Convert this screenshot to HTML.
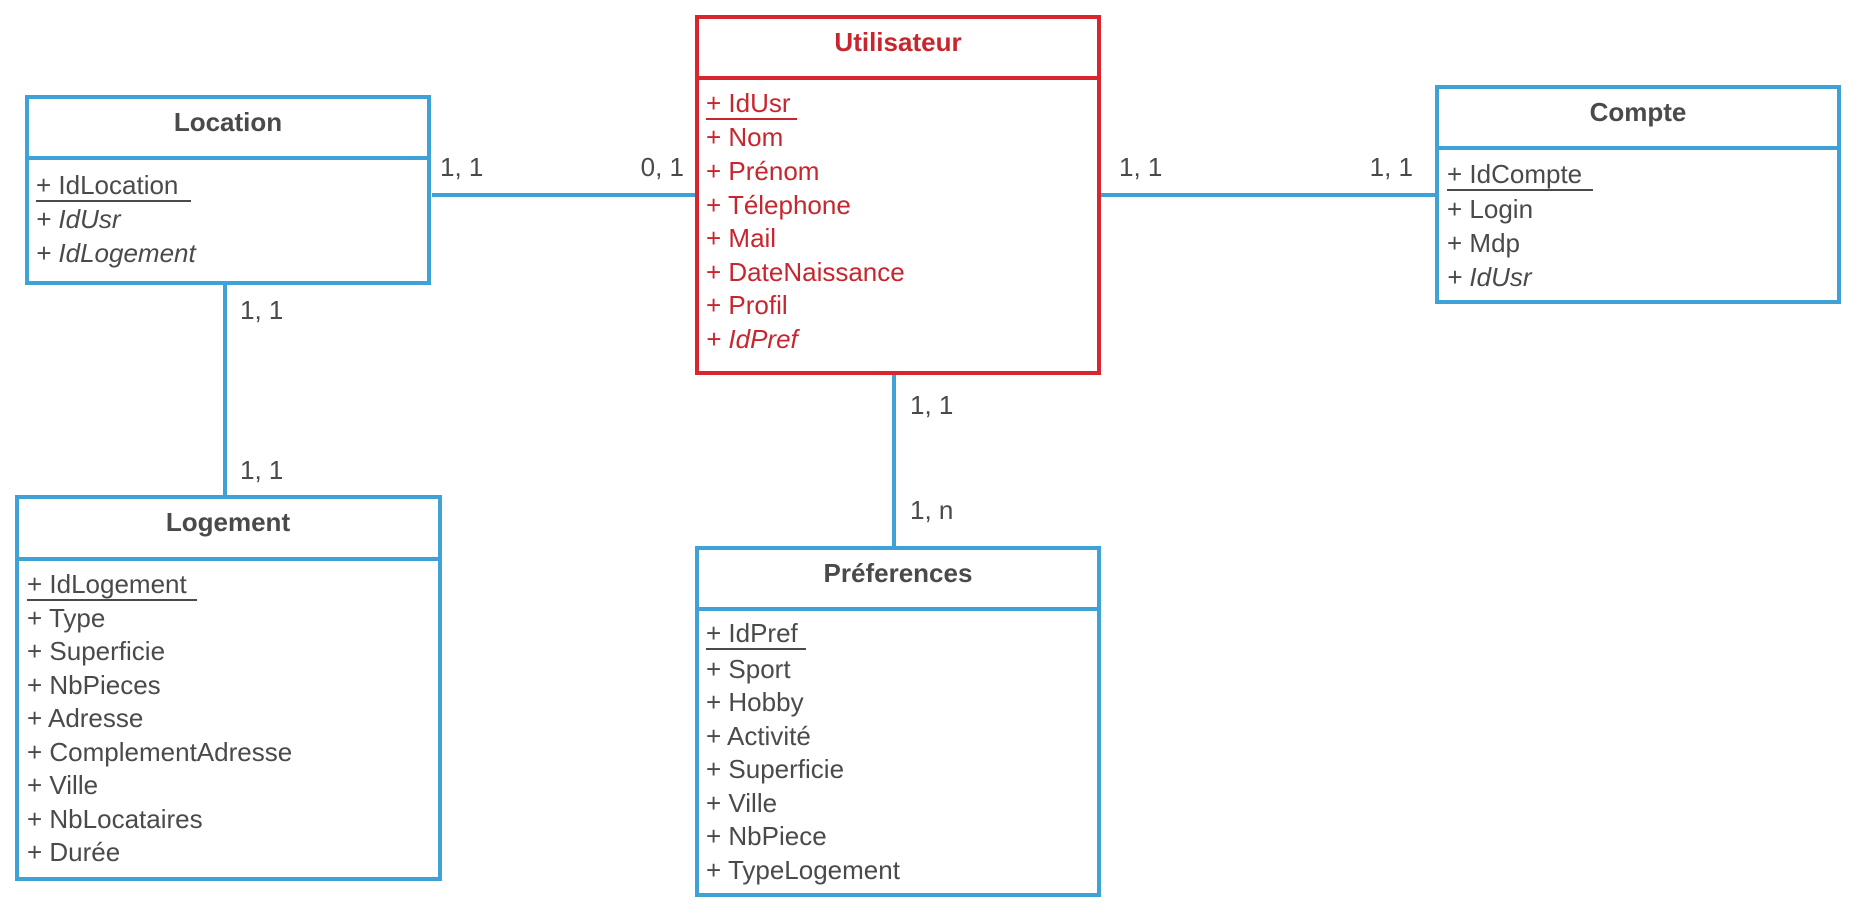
<!DOCTYPE html>
<html><head><meta charset="utf-8"><style>
html,body{margin:0;padding:0;background:#fff;}
svg{display:block;}
text{font-family:"Liberation Sans",sans-serif;font-size:26px;fill:#4a4a4a;}
.h{font-weight:bold;text-anchor:middle;}
.r{fill:#c8262e;}
.i{font-style:italic;}
</style></head><body>
<svg width="1860" height="910" viewBox="0 0 1860 910" xmlns="http://www.w3.org/2000/svg">
<g fill="none" stroke="#3fa2d7" stroke-width="4">
<line x1="432" y1="195" x2="697" y2="195"/>
<line x1="1101" y1="195" x2="1437" y2="195"/>
<line x1="225" y1="283" x2="225" y2="497"/>
<line x1="894" y1="373" x2="894" y2="548"/>
<rect x="27" y="97" width="402" height="186"/><line x1="27" y1="158" x2="429" y2="158"/>
<rect x="1437" y="87" width="402" height="215"/><line x1="1437" y1="148" x2="1839" y2="148"/>
<rect x="17" y="497" width="423" height="382"/><line x1="17" y1="559" x2="440" y2="559"/>
<rect x="697" y="548" width="402" height="347"/><line x1="697" y1="609" x2="1099" y2="609"/>
</g>
<g fill="none" stroke="#d9252d" stroke-width="4">
<rect x="697" y="17" width="402" height="356"/><line x1="697" y1="78" x2="1099" y2="78"/>
</g>
<!-- labels -->
<text x="440" y="176">1, 1</text>
<text x="684" y="176" text-anchor="end">0, 1</text>
<text x="1119" y="176">1, 1</text>
<text x="1413" y="176" text-anchor="end">1, 1</text>
<text x="240" y="319">1, 1</text>
<text x="240" y="479">1, 1</text>
<text x="910" y="414">1, 1</text>
<text x="910" y="519">1, n</text>
<!-- Location -->
<text class="h" x="228" y="131">Location</text>
<text x="36" y="194">+ IdLocation</text>
<line x1="36" y1="201" x2="191" y2="201" stroke="#4a4a4a" stroke-width="2"/>
<text class="i" x="36" y="228">+ IdUsr</text>
<text class="i" x="36" y="262">+ IdLogement</text>
<!-- Utilisateur -->
<g class="r">
<text class="h r" x="898" y="51">Utilisateur</text>
<text class="r" x="706" y="112">+ IdUsr</text>
<line x1="706" y1="119" x2="797" y2="119" stroke="#c8262e" stroke-width="2"/>
<text class="r" x="706" y="146">+ Nom</text>
<text class="r" x="706" y="180">+ Prénom</text>
<text class="r" x="706" y="214">+ Télephone</text>
<text class="r" x="706" y="247">+ Mail</text>
<text class="r" x="706" y="281">+ DateNaissance</text>
<text class="r" x="706" y="314">+ Profil</text>
<text class="r i" x="706" y="348">+ IdPref</text>
</g>
<!-- Compte -->
<text class="h" x="1638" y="121">Compte</text>
<text x="1447" y="183">+ IdCompte</text>
<line x1="1447" y1="190" x2="1593" y2="190" stroke="#4a4a4a" stroke-width="2"/>
<text x="1447" y="218">+ Login</text>
<text x="1447" y="252">+ Mdp</text>
<text class="i" x="1447" y="286">+ IdUsr</text>
<!-- Logement -->
<text class="h" x="228" y="531">Logement</text>
<text x="27" y="593">+ IdLogement</text>
<line x1="27" y1="600" x2="197" y2="600" stroke="#4a4a4a" stroke-width="2"/>
<text x="27" y="627">+ Type</text>
<text x="27" y="660">+ Superficie</text>
<text x="27" y="694">+ NbPieces</text>
<text x="27" y="727">+ Adresse</text>
<text x="27" y="761">+ ComplementAdresse</text>
<text x="27" y="794">+ Ville</text>
<text x="27" y="828">+ NbLocataires</text>
<text x="27" y="861">+ Durée</text>
<!-- Preferences -->
<text class="h" x="898" y="582">Préferences</text>
<text x="706" y="642">+ IdPref</text>
<line x1="706" y1="649" x2="806" y2="649" stroke="#4a4a4a" stroke-width="2"/>
<text x="706" y="678">+ Sport</text>
<text x="706" y="711">+ Hobby</text>
<text x="706" y="745">+ Activité</text>
<text x="706" y="778">+ Superficie</text>
<text x="706" y="812">+ Ville</text>
<text x="706" y="845">+ NbPiece</text>
<text x="706" y="879">+ TypeLogement</text>
</svg>
</body></html>
